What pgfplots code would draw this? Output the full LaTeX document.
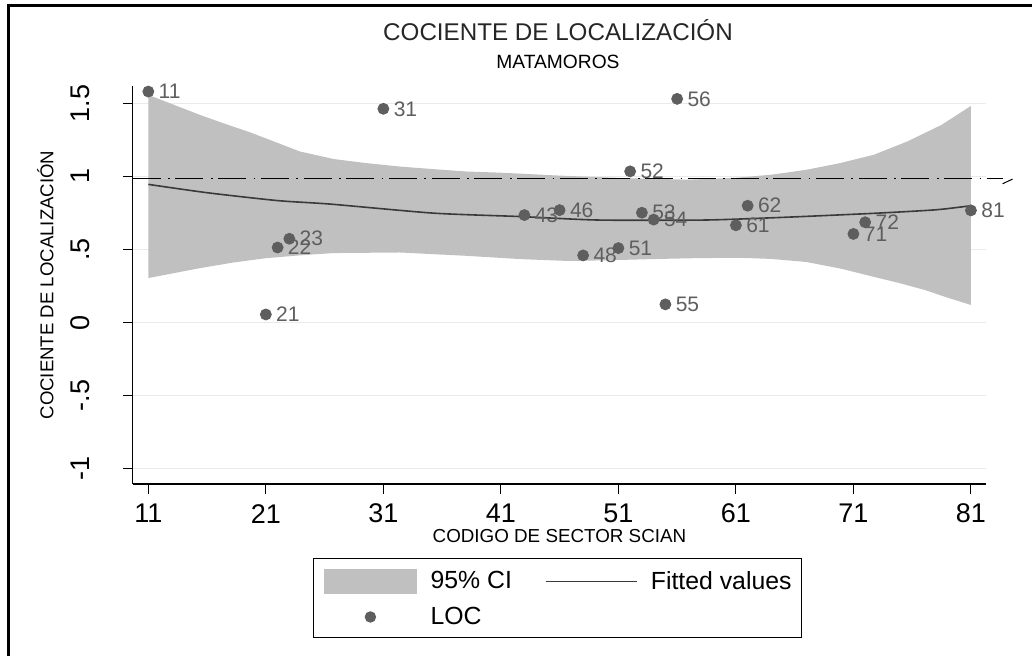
\documentclass[border=0pt]{standalone}
\usepackage{pgfplots}
\usepackage{pgfplotstable}
\pgfplotsset{compat=1.18}
\usepackage{fontspec}
\setmainfont{Liberation Sans}

\definecolor{cifill}{HTML}{C0C0C0}
\definecolor{locgray}{HTML}{5E5E5E}
\definecolor{fitline}{HTML}{3A3A3A}
\definecolor{gridgray}{HTML}{EAEAEA}

% LOC by sector code
\pgfplotstableread{
x y lab
11 1.580 11
21 0.055 21
22 0.513 22
23 0.573 23
31 1.462 31
43 0.735 43
46 0.769 46
48 0.459 48
51 0.509 51
52 1.034 52
53 0.751 53
54 0.704 54
55 0.124 55
56 1.530 56
61 0.665 61
62 0.799 62
71 0.606 71
72 0.686 72
81 0.767 81
}\loctable

\begin{document}
\begin{tikzpicture}
\useasboundingbox (0,0) rectangle (516pt,327.5pt);
\draw[line width=1.5pt] (4.25pt,-20pt) -- (4.25pt,324.75pt) -- (540pt,324.75pt);
\node[anchor=base, font=\fontsize{12.1}{14}\selectfont, text=black!85] at (279pt,307.4pt) {COCIENTE DE LOCALIZACIÓN};
\node[anchor=base, font=\fontsize{9.6}{11}\selectfont] at (279pt,293.35pt) {MATAMOROS};

\begin{axis}[
  at={(66.35pt,85.5pt)}, anchor=south west,
  scale only axis, width=426.75pt, height=199pt,
  xmin=9.67, xmax=82.3, ymin=-1.105, ymax=1.618,
  enlargelimits=false, clip=false,
  axis x line*=bottom, axis y line*=left,
  axis line style={line width=0.6pt, -},
  tick align=outside, major tick length=4.8pt,
  tick style={line width=0.5pt, black},
  xtick={11,21,31,41,51,61,71,81},
  xticklabels={11,21,31,41,51,61,71,81},
  ytick={-1,-0.5,0,0.5,1,1.5},
  yticklabels={-1,-.5,0,.5,1,1.5},
  ymajorgrids, grid style={gridgray, line width=0.6pt},
  /pgf/number format/assume math mode=true,
  ticklabel style={font=\fontsize{13.5}{14}\selectfont},
  xticklabel style={anchor=center, yshift=-10pt},
  yticklabel style={xshift=-21.35pt, rotate=90, anchor=center},
  xlabel={CODIGO DE SECTOR SCIAN},
  xlabel style={at={(axis description cs:0.5,-0.1299)}, anchor=center, font=\fontsize{9.4}{11}\selectfont},
  ylabel={COCIENTE DE LOCALIZACIÓN},
  ylabel style={at={(axis description cs:-0.09297,0.5)}, anchor=base, rotate=0, font=\fontsize{9.3}{11}\selectfont},
  legend columns=2,
  legend cell align=left,
  legend style={at={(0.2109,-0.1867)}, anchor=north west, draw=black, line width=0.5pt,
    font=\fontsize{12.4}{14}\selectfont, inner xsep=5pt, inner ysep=5pt,
    column sep=6.5pt, row sep=6.2pt,
    nodes={inner sep=0pt},
    /tikz/every even column/.append style={column sep=16.4pt}},
]

% 95% confidence band: upper edge left to right, lower edge right to left
\addplot[fill=cifill, draw=none,
  legend image code/.code={\fill[cifill] (0pt,-6.4pt) rectangle (46.7pt,6.4pt);}]
  coordinates {
  (11,1.557) (13,1.495) (15.4,1.42) (17.5,1.36) (19.7,1.30) (21.8,1.235)
  (23.9,1.17) (26.8,1.118) (29.6,1.09) (32.4,1.067) (35.3,1.049) (38.1,1.033)
  (41,1.025) (46,1.005) (51.1,0.989) (56.9,0.977) (61,0.99) (64.1,1.012)
  (67,1.045) (69.9,1.091) (72.75,1.148) (75.6,1.239) (78.5,1.352) (81,1.482)
  (81,0.12) (79,0.17) (77.1,0.222) (74.9,0.27) (72.75,0.312) (69.9,0.369)
  (67,0.414) (64,0.435) (61.2,0.443) (57.5,0.44) (54,0.434) (50.3,0.426)
  (46.7,0.421) (42.6,0.434) (38.1,0.456) (32.4,0.479) (26.75,0.475) (24,0.46)
  (21,0.44) (18.2,0.41) (15.4,0.372) (13.2,0.338) (11,0.304)
  } -- cycle;
\addlegendentry{95\% CI}

\addplot[fitline, line width=0.8pt, smooth, tension=0.4,
  legend image code/.code={\draw[fitline, line width=0.8pt] (0pt,0pt) -- (45.8pt,0pt);}]
  coordinates {
  (11,0.945) (16,0.888) (22,0.834) (26.5,0.81) (35.3,0.748) (42.6,0.725)
  (49.3,0.701) (58.3,0.701) (64.9,0.719) (72.75,0.747) (78,0.771) (81,0.799)
  };
\addlegendentry{Fitted values}

\addplot[forget plot, black, line width=0.5pt,
  dash pattern=on 14pt off 3.75pt on 0.85pt off 2.75pt]
  coordinates {(9.67,0.985) (83.69,0.985)};
\draw[black, line width=0.5pt] (axis cs:83.69,0.949) -- (axis cs:84.54,0.981);

\addplot[only marks, mark=*, mark size=2.75pt, color=locgray,
  mark options={fill=locgray, draw=none},
  nodes near coords, point meta=explicit symbolic,
  every node near coord/.append style={anchor=west, inner sep=0pt, xshift=5pt,
    font=\fontsize{10.5}{11}\selectfont, text=locgray},
  legend image code/.code={\path (0pt,0pt) (46.7pt,0pt);
    \fill[locgray] (23.35pt,0pt) circle (2.6pt);}]
  table[x=x, y=y, meta=lab] {\loctable};
\addlegendentry{LOC}

\end{axis}
\end{tikzpicture}
\end{document}
